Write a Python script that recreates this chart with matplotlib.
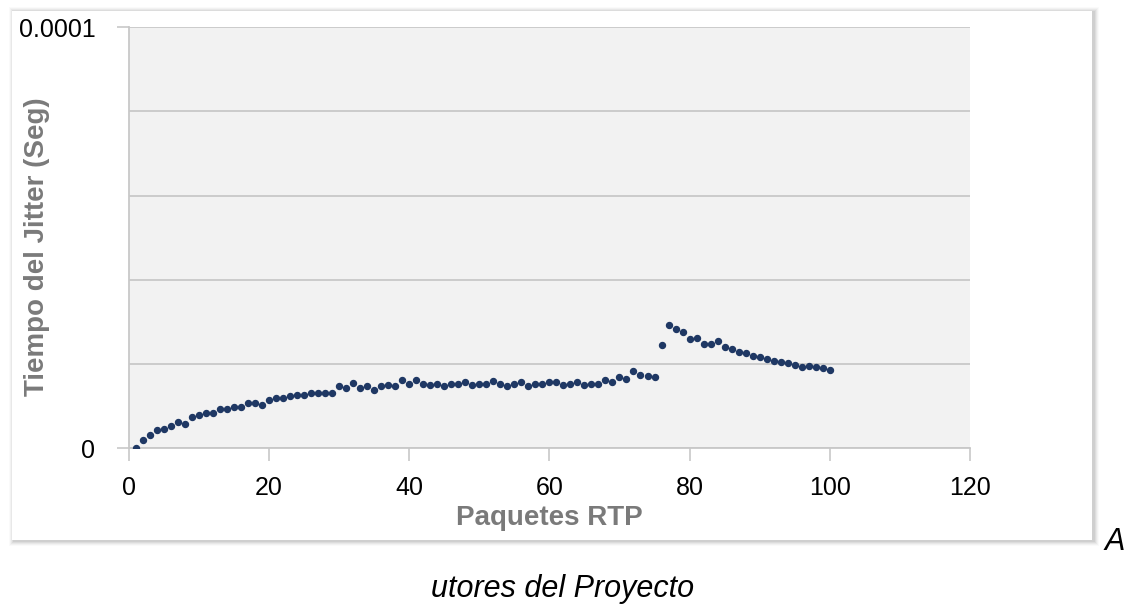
import matplotlib.pyplot as plt
from matplotlib import font_manager
from matplotlib.patches import Rectangle
from matplotlib.ticker import MultipleLocator

# Jitter por paquete RTP (en unidades de 1e-5 s)
paquetes = list(range(1, 101))
jitter_e5 = [
    0.00, 0.20, 0.32, 0.44, 0.46, 0.52, 0.62, 0.58, 0.74, 0.80,
    0.84, 0.83, 0.93, 0.93, 0.98, 0.98, 1.08, 1.08, 1.04, 1.14,
    1.19, 1.19, 1.24, 1.27, 1.26, 1.32, 1.32, 1.32, 1.32, 1.48,
    1.44, 1.54, 1.44, 1.48, 1.38, 1.48, 1.50, 1.48, 1.63, 1.53,
    1.63, 1.53, 1.50, 1.53, 1.47, 1.53, 1.53, 1.57, 1.50, 1.53,
    1.53, 1.60, 1.53, 1.47, 1.53, 1.57, 1.47, 1.53, 1.53, 1.57,
    1.57, 1.50, 1.53, 1.57, 1.50, 1.53, 1.53, 1.63, 1.57, 1.69,
    1.65, 1.84, 1.74, 1.72, 1.69, 2.45, 2.94, 2.84, 2.76, 2.60,
    2.63, 2.48, 2.48, 2.54, 2.41, 2.36, 2.29, 2.26, 2.20, 2.17,
    2.11, 2.08, 2.05, 2.02, 1.99, 1.93, 1.95, 1.93, 1.90, 1.87,
]
jitter = [v * 1e-5 for v in jitter_e5]

xticks = [0, 20, 40, 60, 80, 100, 120]
yticks = [0, 0.0001]
ytick_labels = ['0', '0.0001']

installed = {f.name for f in font_manager.fontManager.ttflist}
narrow = 'Liberation Sans Narrow' if 'Liberation Sans Narrow' in installed else 'Liberation Sans'
plt.rcParams['font.family'] = [narrow, 'DejaVu Sans']

fig = plt.figure(figsize=(11.35, 6.13), dpi=100)
W, H = 1135, 613

# marco blanco con sombra suave
x0, y0, x1, y1 = 12, 11, 1092, 540
for i, a in enumerate([0.02, 0.03, 0.04, 0.05, 0.06]):
    off = 5 - i
    fig.patches.append(Rectangle(((x0 - off + 2) / W, 1 - (y1 + off + 1) / H),
                                 (x1 - x0 + 2 * off) / W, (y1 - y0 + 2 * off) / H,
                                 transform=fig.transFigure, facecolor='black',
                                 alpha=a, edgecolor='none', zorder=0))
fig.patches.append(Rectangle((x0 / W, 1 - y1 / H), (x1 - x0) / W, (y1 - y0) / H,
                             transform=fig.transFigure, facecolor='white',
                             edgecolor='none', zorder=1))

ax = fig.add_axes([128.7 / W, 1 - 448.3 / H, (970 - 128.7) / W, (448.3 - 27.3) / H])
ax.set_zorder(2)
ax.set_facecolor('#f2f2f2')

ax.plot(paquetes, jitter, linestyle='none', marker='o', markersize=4.3,
        color='#1f3864', zorder=3)

ax.set_xlim(0, 120)
ax.set_ylim(0, 0.0001)
ax.set_xticks(xticks)
ax.set_yticks(yticks)
ax.set_yticklabels(ytick_labels)
ax.yaxis.set_minor_locator(MultipleLocator(0.00002))
ax.tick_params(axis='both', which='major', labelsize=18, colors='#c8c8c8',
               labelcolor='black', length=9, width=1.2)
ax.tick_params(axis='x', pad=11)
ax.tick_params(axis='y', pad=15)
ax.tick_params(axis='y', which='minor', length=0)
ax.grid(True, axis='y', which='both', color='#c8c8c8', linewidth=1.3)
ax.set_axisbelow(True)

for s in ['top', 'right']:
    ax.spines[s].set_visible(False)
for s in ['left', 'bottom']:
    ax.spines[s].set_color('#c8c8c8')
    ax.spines[s].set_linewidth(1.3)

ax.set_xlabel('Paquetes RTP', fontsize=20, fontweight='bold', color='#7a7a7a')
ax.xaxis.set_label_coords(0.5, -0.135)
ax.set_ylabel('Tiempo del Jitter (Seg)', fontsize=20, fontweight='bold', color='#7a7a7a')
ax.yaxis.set_label_coords(-0.093, 0.48)

fig.text(1115 / W, 1 - 542 / H, 'A', fontsize=22, style='italic',
         family='Liberation Sans', ha='center', va='center')
fig.text(563 / W, 1 - 589 / H, 'utores del Proyecto', fontsize=22, style='italic',
         family='Liberation Sans', ha='center', va='center')

fig.savefig('out.png', dpi=100)
